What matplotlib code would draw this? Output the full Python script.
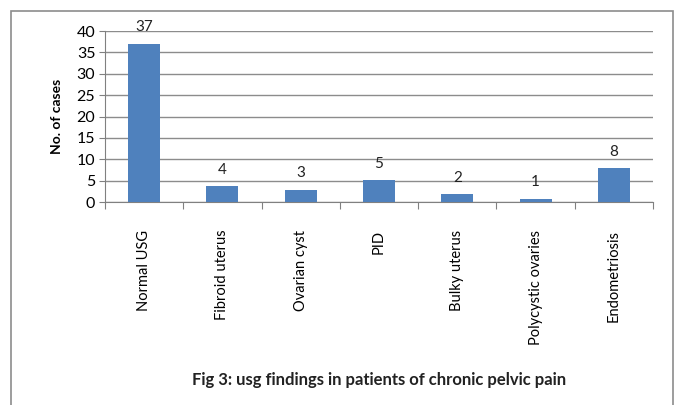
import matplotlib.pyplot as plt
from matplotlib.patches import Rectangle

# data
findings = ['Normal USG', 'Fibroid uterus', 'Ovarian cyst', 'PID',
            'Bulky uterus', 'Polycystic ovaries', 'Endometriosis']
counts = [37, 4, 3, 5, 2, 1, 8]
# bar heights as drawn in the original (slightly off from the labels)
bar_heights = [37, 3.7, 2.8, 5.1, 1.8, 0.8, 7.9]
y_ticks = [0, 5, 10, 15, 20, 25, 30, 35, 40]

plt.rcParams['font.family'] = ['Lato', 'DejaVu Sans']

fig = plt.figure(figsize=(6.78, 4.05), dpi=100)
ax = fig.add_axes([105 / 678, 1 - 202 / 405, (653 - 105) / 678, (202 - 31) / 405])

# outer chart border
fig.patches.append(Rectangle((11 / 678, -0.05), (673 - 11) / 678, 1 - 11 / 405 + 0.05,
                             transform=fig.transFigure, fill=False,
                             edgecolor='#8c8c8c', linewidth=1.2))

x = list(range(len(findings)))
ax.bar(x, bar_heights, width=0.41, color='#4f81bd', zorder=3)

for xi, h, c in zip(x, bar_heights, counts):
    ax.annotate(str(c), (xi, h), xytext=(0, 12), textcoords='offset points',
                ha='center', va='center', fontsize=11, color='#222222')

ax.set_xlim(-0.5, len(findings) - 0.5)
ax.set_ylim(0, 40)
ax.set_yticks(y_ticks)
ax.tick_params(axis='y', labelsize=11.5, length=4, color='#808080', pad=3)
ax.yaxis.grid(True, color='#8c8c8c', linewidth=1.0, zorder=0)
ax.set_axisbelow(True)

ax.set_xticks([i - 0.5 for i in range(len(findings) + 1)], minor=False)
ax.set_xticklabels([])
ax.tick_params(axis='x', length=5, color='#808080', direction='out')
ax.set_xticks(x, minor=True)
ax.set_xticklabels(findings, minor=True, rotation=90, fontsize=10.5, va='top')
ax.tick_params(axis='x', which='minor', length=0, pad=20)

for side in ['top', 'right']:
    ax.spines[side].set_visible(False)
for side in ['left', 'bottom']:
    ax.spines[side].set_color('#808080')

ax.set_ylabel('No. of cases', fontsize=10, fontweight='bold', labelpad=10)

fig.text(379 / 678, 1 - 380 / 405, 'Fig 3: usg findings in patients of chronic pelvic pain',
         ha='center', va='center', fontsize=12, fontweight='bold', color='#222222')

fig.savefig('out.png', dpi=100)
